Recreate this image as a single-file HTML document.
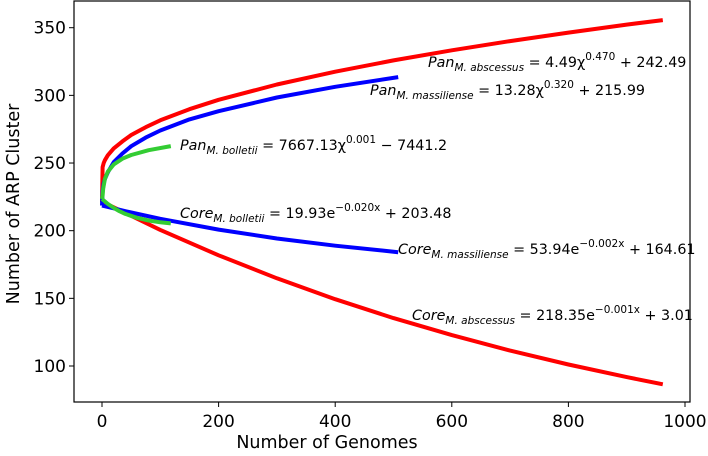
<!DOCTYPE html>
<html><head><meta charset="utf-8"><style>
html,body{margin:0;padding:0;background:#fff}
svg{display:block;font-family:"DejaVu Sans","Liberation Sans",sans-serif}
</style></head><body>
<svg id="chart" width="708" height="456" viewBox="0 0 708 456"></svg>
<script>
// Data (ARP cluster counts vs number of genomes)
const xTicks = [0, 200, 400, 600, 800, 1000];
const yTicks = [100, 150, 200, 250, 300, 350];
const panAbsX = [0, 1, 3, 5, 10, 20, 35, 50, 75, 100, 150, 200, 300, 400, 500, 600, 700, 800, 900, 962];
const panAbsY = [221, 247.0, 250.0, 252.1, 255.7, 260.8, 266.0, 270.7, 276.5, 281.6, 289.8, 296.7, 308.0, 317.5, 325.8, 333.3, 340.1, 346.4, 352.3, 355.6];
const coreAbsX = [0, 100, 200, 300, 400, 500, 600, 700, 800, 900, 962];
const coreAbsY = [221.4, 200.6, 181.8, 164.8, 149.4, 135.4, 122.8, 111.4, 101.1, 91.8, 86.5];
const panMasX = [0, 1, 3, 5, 10, 20, 35, 50, 75, 100, 150, 200, 300, 400, 508];
const panMasY = [218.5, 229.3, 235.0, 238.2, 243.1, 250.6, 257.0, 262.4, 268.8, 274.0, 282.2, 288.3, 298.4, 306.3, 313.5];
const coreMasX = [0, 50, 100, 200, 300, 400, 508];
const coreMasY = [218.5, 213.4, 208.8, 200.8, 194.2, 188.9, 184.1];
const panBolX = [0, 1, 2, 5, 10, 20, 35, 50, 80, 118];
const panBolY = [223.4, 225.9, 231.2, 238.3, 243.6, 248.9, 253.2, 255.9, 259.5, 262.5];
const coreBolX = [0, 10, 20, 30, 40, 60, 80, 100, 118];
const coreBolY = [223.4, 219.8, 216.8, 214.4, 212.4, 209.5, 207.5, 206.2, 205.4];

const NS = "http://www.w3.org/2000/svg";
const svg = document.getElementById("chart");
const L = 74, R = 690, T = 1, B = 402;
const sx = v => 102 + v * (685 - 102) / 1000;
const sy = v => 27.7 + (350 - v) * (366 - 27.7) / 250;
function mk(tag, attrs, parent) {
  const e = document.createElementNS(NS, tag);
  for (const k in attrs) e.setAttribute(k, attrs[k]);
  (parent || svg).appendChild(e);
  return e;
}
const frame = mk("rect", {x: L, y: T, width: R - L, height: B - T, fill: "none", stroke: "#000", "stroke-width": 1.2});


xTicks.forEach(t => {
  const g = mk("g", {});
  
  
  mk("line", {x1: sx(t), x2: sx(t), y1: B, y2: B + 5, stroke: "#000"}, g);
  const tx = mk("text", {x: sx(t), y: B + 25, "text-anchor": "middle", "font-size": 17, fill: "#000"}, g);
  tx.textContent = t;
});
yTicks.forEach(t => {
  const g = mk("g", {});
  
  
  mk("line", {x1: L - 5, x2: L, y1: sy(t), y2: sy(t), stroke: "#000"}, g);
  const tx = mk("text", {x: L - 8, y: sy(t) + 6, "text-anchor": "end", "font-size": 17, fill: "#000"}, g);
  tx.textContent = t;
});
const xt = mk("text", {x: 327, y: 448, "text-anchor": "middle", "font-size": 17.5});
xt.textContent = "Number of Genomes";


const yt = mk("text", {x: 0, y: 0, "text-anchor": "middle", "font-size": 17.5, transform: "translate(19,204) rotate(-90)"});
yt.textContent = "Number of ARP Cluster";


function line(xs, ys, color, name) {
  const d = xs.map((x, i) => (i ? "L" : "M") + sx(x).toFixed(1) + "," + sy(ys[i]).toFixed(1)).join("");
  const p = mk("path", {d: d, fill: "none", stroke: color, "stroke-width": 4, "stroke-linejoin": "round"});
  
  
}
line(panAbsX, panAbsY, "#ff0000", "pan-abscessus-line");
line(coreAbsX, coreAbsY, "#ff0000", "core-abscessus-line");
line(panMasX, panMasY, "#0000ff", "pan-massiliense-line");
line(coreMasX, coreMasY, "#0000ff", "core-massiliense-line");
line(panBolX, panBolY, "#33cc33", "pan-bolletii-line");
line(coreBolX, coreBolY, "#33cc33", "core-bolletii-line");
function ann(x, y, name, sub, rest, sup, tail, dn) {
  const t = mk("text", {x: x, y: y, "font-size": 14.3, fill: "#000"});
  
  
  let s = mk("tspan", {"font-style": "italic"}, t); s.textContent = name;
  s = mk("tspan", {"font-style": "italic", "font-size": 10.5, dy: 4}, t); s.textContent = sub;
  s = mk("tspan", {dy: -4}, t); s.textContent = rest;
  s = mk("tspan", {"font-size": 10.5, dy: -7}, t); s.textContent = sup;
  s = mk("tspan", {dy: 7}, t); s.textContent = tail;
}
ann(428, 67, "Pan", "M. abscessus", " = 4.49\u03c7", "0.470", " + 242.49", "pan-abscessus-equation");
ann(370, 95, "Pan", "M. massiliense", " = 13.28\u03c7", "0.320", " + 215.99", "pan-massiliense-equation");
ann(180, 150, "Pan", "M. bolletii", " = 7667.13\u03c7", "0.001", " \u2212 7441.2", "pan-bolletii-equation");
ann(180, 218, "Core", "M. bolletii", " = 19.93e", "\u22120.020x", " + 203.48", "core-bolletii-equation");
ann(398, 254, "Core", "M. massiliense", " = 53.94e", "\u22120.002x", " + 164.61", "core-massiliense-equation");
ann(412, 320, "Core", "M. abscessus", " = 218.35e", "\u22120.001x", " + 3.01", "core-abscessus-equation");
</script>
</body></html>
